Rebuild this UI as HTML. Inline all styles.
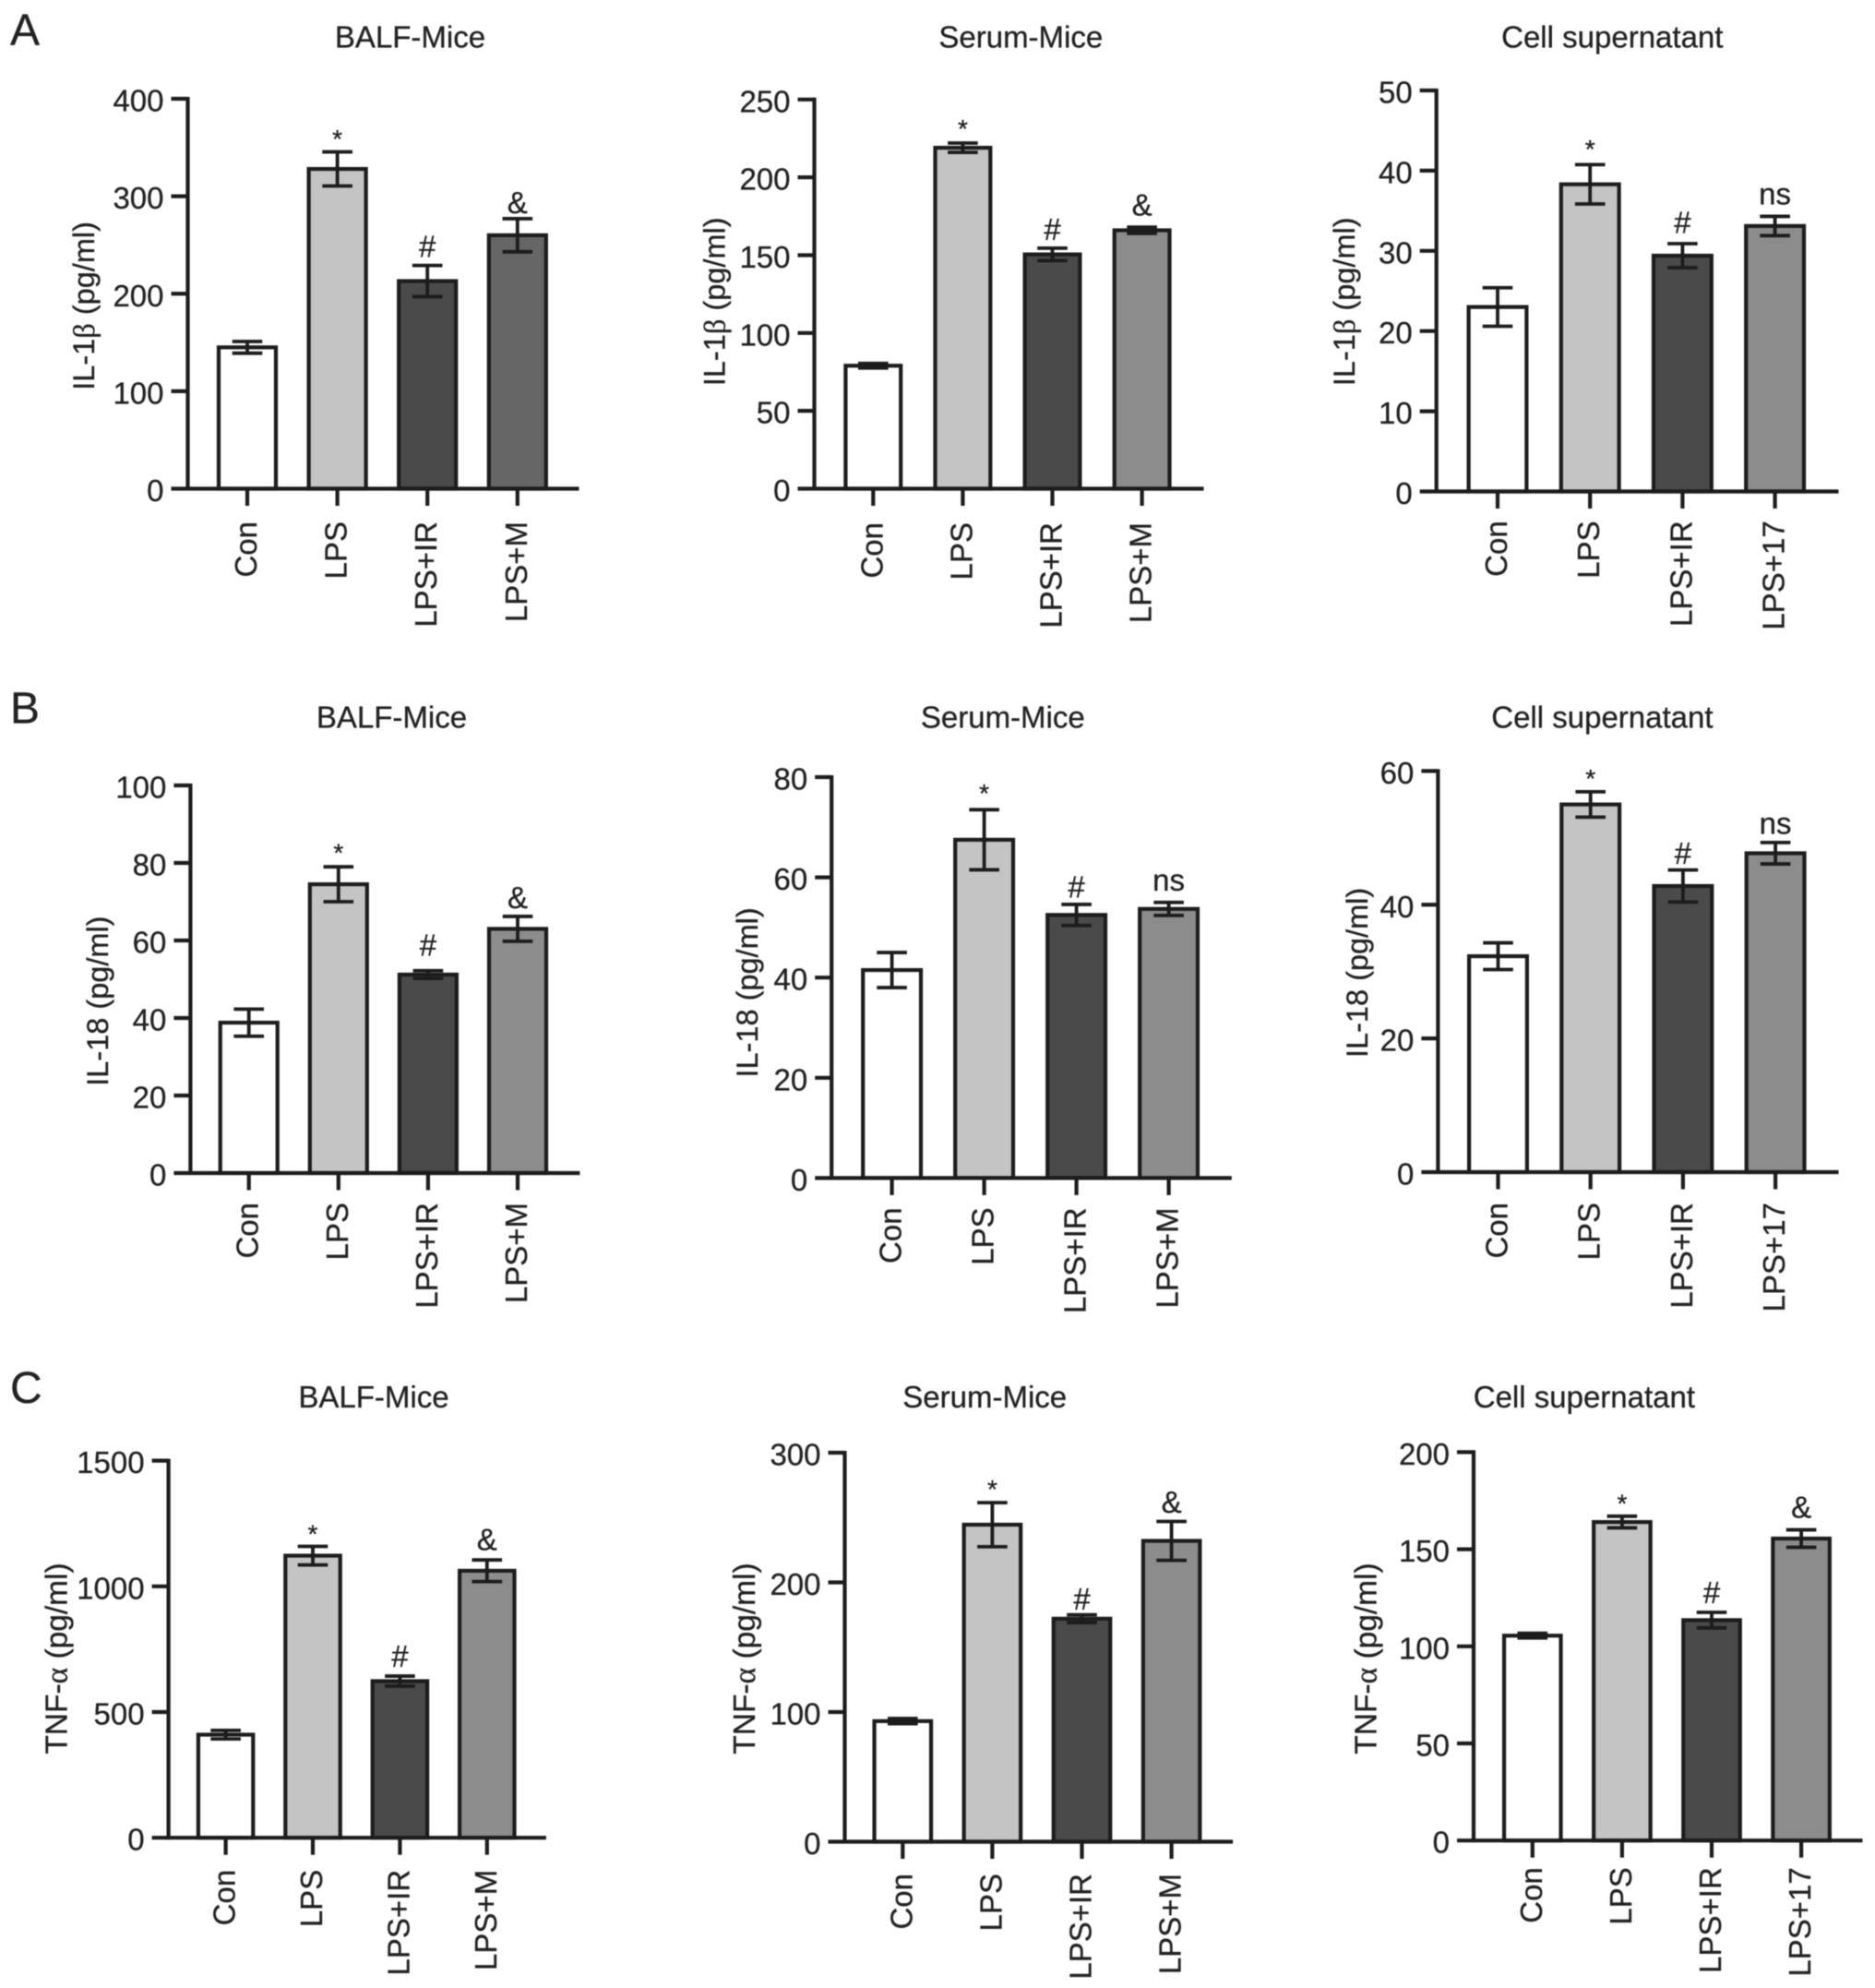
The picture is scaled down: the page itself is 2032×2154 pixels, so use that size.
<!DOCTYPE html>
<html lang="en">
<head>
<meta charset="utf-8">
<title>Cytokine levels bar charts</title>
<style>
html,body{margin:0;padding:0;background:#fff;width:2032px;height:2154px;overflow:hidden}
svg{display:block;filter:blur(0.5px)}
text{font-family:"Liberation Sans",Arial,sans-serif;fill:#222;stroke:#222;stroke-width:0.3px}
</style>
</head>
<body>
<svg id="figure" xmlns="http://www.w3.org/2000/svg" width="2032" height="2154" viewBox="0 0 2032 2154">
  <rect x="0" y="0" width="2032" height="2154" fill="#fff"/>
  <text x="11" y="48.5" font-size="48">A</text>
  <text x="11" y="783.7" font-size="48">B</text>
  <text x="11" y="1519.8" font-size="48">C</text>
</svg>
<script>
// ---- Category labels ----
const catsMice = ['Con', 'LPS', 'LPS+IR', 'LPS+M'];
const catsCell = ['Con', 'LPS', 'LPS+IR', 'LPS+17'];

// ---- Tick labels ----
const ticksA1 = [0, 100, 200, 300, 400];
const ticksA2 = [0, 50, 100, 150, 200, 250];
const ticksA3 = [0, 10, 20, 30, 40, 50];
const ticksB1 = [0, 20, 40, 60, 80, 100];
const ticksB2 = [0, 20, 40, 60, 80];
const ticksB3 = [0, 20, 40, 60];
const ticksC1 = [0, 500, 1000, 1500];
const ticksC2 = [0, 100, 200, 300];
const ticksC3 = [0, 50, 100, 150, 200];

// ---- Series values (means) ----
const valuesA1 = [145, 328, 213, 260];
const valuesA2 = [79, 219, 150.5, 166];
const valuesA3 = [23, 38.3, 29.4, 33.1];
const valuesB1 = [38.8, 74.5, 51.2, 63];
const valuesB2 = [41.5, 67.5, 52.5, 53.7];
const valuesB3 = [32.3, 55, 42.8, 47.7];
const valuesC1 = [410, 1122, 623, 1062];
const valuesC2 = [93, 244.5, 172, 232];
const valuesC3 = [105.5, 164, 113.5, 155.5];

// ---- Error bar half-widths ----
const errorsA1 = [6, 17.5, 16, 17];
const errorsA2 = [1.5, 3, 4, 2];
const errorsA3 = [2.4, 2.45, 1.5, 1.2];
const errorsB1 = [3.5, 4.5, 1, 3.2];
const errorsB2 = [3.5, 6, 2.1, 1.3];
const errorsB3 = [2, 1.9, 2.4, 1.6];
const errorsC1 = [17, 37, 20, 43];
const errorsC2 = [2, 17, 3, 15];
const errorsC3 = [1.2, 3, 4, 4.5];

// ---- Significance labels ----
const sigA1 = ['', '*', '#', '&'];
const sigA2 = ['', '*', '#', '&'];
const sigA3 = ['', '*', '#', 'ns'];
const sigB1 = ['', '*', '#', '&'];
const sigB2 = ['', '*', '#', 'ns'];
const sigB3 = ['', '*', '#', 'ns'];
const sigC1 = ['', '*', '#', '&'];
const sigC2 = ['', '*', '#', '&'];
const sigC3 = ['', '*', '#', '&'];

// ---- Bar fills ----
const fillsA1 = ['#ffffff', '#c4c4c4', '#4a4a4a', '#666666'];
const fillsStd = ['#ffffff', '#c4c4c4', '#4a4a4a', '#8c8c8c'];

// ---- Panel layouts (axes geometry lives here, marks come from the arrays above) ----
const panels = [
 {id:'a1',title:'BALF-Mice',tx:444.5,ty:51.7,yl:['IL-1','β',' (pg/ml)'],ylf:32.5,ylx:101.9,yly:331.4,ax:203.5,y0:529.5,yT:107,max:400,first:268,step:97.6,xEnd:627.5,bw:62,gap:35.5,cats:catsMice,ticks:ticksA1,vals:valuesA1,errs:errorsA1,sig:sigA1,fills:fillsA1,lift:[0,4.5,9.2,5.9]},
 {id:'a2',title:'Serum-Mice',tx:1106.3,ty:51.7,yl:['IL-1','β',' (pg/ml)'],ylf:32.5,ylx:785.4,yly:326.8,ax:882.5,y0:529.5,yT:107.8,max:250,first:946.3,step:97.1,xEnd:1304.5,bw:59.8,gap:36.5,cats:catsMice,ticks:ticksA2,vals:valuesA2,errs:errorsA2,sig:sigA2,fills:fillsStd,lift:[0,6,8.8,12.4]},
 {id:'a3',title:'Cell supernatant',tx:1747.3,ty:51.7,yl:['IL-1','β',' (pg/ml)'],ylf:32.5,ylx:1467.8,yly:326.8,ax:1556.7,y0:532.5,yT:98,max:50,first:1623,step:100.2,xEnd:1992.5,bw:62.8,gap:31.8,cats:catsCell,ticks:ticksA3,vals:valuesA3,errs:errorsA3,sig:sigA3,fills:fillsStd,lift:[0,7.4,11.5,13]},
 {id:'b1',title:'BALF-Mice',tx:424.5,ty:788.3,yl:['IL-18 (pg/ml)','',''],ylf:32.5,ylx:117.1,yly:1084.6,ax:206.4,y0:1271,yT:851,max:100,first:269.7,step:97.1,xEnd:628.4,bw:62,gap:32,cats:catsMice,ticks:ticksB1,vals:valuesB1,errs:errorsB1,sig:sigB1,fills:fillsStd,lift:[0,5.8,16.3,9]},
 {id:'b2',title:'Serum-Mice',tx:1086.8,ty:788.3,yl:['IL-18 (pg/ml)','',''],ylf:32.5,ylx:820.9,yly:1075.4,ax:901.2,y0:1276.4,yT:842,max:80,first:966.6,step:100,xEnd:1334.8,bw:62.8,gap:32,cats:catsMice,ticks:ticksB2,vals:valuesB2,errs:errorsB2,sig:sigB2,fills:fillsStd,lift:[0,8.4,7.5,12.8]},
 {id:'b3',title:'Cell supernatant',tx:1736.4,ty:788.3,yl:['IL-18 (pg/ml)','',''],ylf:32.5,ylx:1482.1,yly:1053.9,ax:1558.4,y0:1270,yT:835.4,max:60,first:1623.5,step:100.2,xEnd:1992.5,bw:62.8,gap:33,cats:catsCell,ticks:ticksB3,vals:valuesB3,errs:errorsB3,sig:sigB3,fills:fillsStd,lift:[0,5,6.8,9.4]},
 {id:'c1',title:'BALF-Mice',tx:405,ty:1524.9,yl:['TNF-','α',' (pg/ml)'],ylf:33.5,ylx:72.4,yly:1797,ax:182.6,y0:1991.2,yT:1582.6,max:1500,first:244.6,step:94.4,xEnd:591.9,bw:59.4,gap:34.6,cats:catsMice,ticks:ticksC1,vals:valuesC1,errs:errorsC1,sig:sigC1,fills:fillsStd,lift:[0,4.2,10.2,10.6]},
 {id:'c2',title:'Serum-Mice',tx:1067.2,ty:1524.9,yl:['TNF-','α',' (pg/ml)'],ylf:33.5,ylx:817.9,yly:1797,ax:915.5,y0:1995.5,yT:1574,max:300,first:978.3,step:97.1,xEnd:1336.1,bw:61.5,gap:34.5,cats:catsMice,ticks:ticksC2,vals:valuesC2,errs:errorsC2,sig:sigC2,fills:fillsStd,lift:[0,5,5.5,9.7]},
 {id:'c3',title:'Cell supernatant',tx:1716.9,ty:1524.9,yl:['TNF-','α',' (pg/ml)'],ylf:33.5,ylx:1491.6,yly:1797,ax:1597,y0:1994.2,yT:1573.4,max:200,first:1660.8,step:97.1,xEnd:2018.5,bw:61.5,gap:29,cats:catsCell,ticks:ticksC3,vals:valuesC3,errs:errorsC3,sig:sigC3,fills:fillsStd,lift:[0,4.2,10.2,13]}
];

const NS = 'http://www.w3.org/2000/svg';
const INK = '#1c1c1c';
const svg = document.getElementById('figure');

function make(tag, attrs, parent) {
  const n = document.createElementNS(NS, tag);
  for (const k in attrs) n.setAttribute(k, attrs[k]);
  parent.appendChild(n);
  return n;
}

panels.forEach(function (p) {
  const yScale = function (v) { return p.y0 - (v / p.max) * (p.y0 - p.yT); };
  const xScale = function (i) { return p.first + i * p.step; };

  const g = make('g', {}, svg);
  
  

  // title
  const title = make('text', {x: p.tx, y: p.ty, 'font-size': 33, 'text-anchor': 'middle'}, g);
  
  
  title.textContent = p.title;

  // y-axis title
  const yt = make('text', {x: p.ylx, y: p.yly, 'font-size': p.ylf, 'text-anchor': 'middle', transform: 'rotate(-90 ' + p.ylx + ' ' + p.yly + ')'}, g);
  
  
  yt.appendChild(document.createTextNode(p.yl[0]));
  if (p.yl[1]) {
    const greek = make('tspan', {'font-family': '"Liberation Serif",serif'}, yt);
    
    
    greek.textContent = p.yl[1];
    yt.appendChild(document.createTextNode(p.yl[2]));
  }

  // bars
  p.vals.forEach(function (v, i) {
    const top = yScale(v);
    const bar = make('rect', {x: xScale(i) - p.bw / 2, y: top, width: p.bw, height: p.y0 - top, fill: p.fills[i], stroke: INK, 'stroke-width': 4.2}, g);
    
    
  });

  // error bars
  p.vals.forEach(function (v, i) {
    const cx = xScale(i);
    const hi = yScale(v + p.errs[i]);
    const lo = yScale(v - p.errs[i]);
    const err = make('path', {d: 'M' + (cx - 16.3) + ' ' + hi + 'H' + (cx + 16.3) + 'M' + cx + ' ' + hi + 'V' + lo + 'M' + (cx - 16.3) + ' ' + lo + 'H' + (cx + 16.3), fill: 'none', stroke: INK, 'stroke-width': 3.8}, g);
    
    
  });

  // significance labels
  p.sig.forEach(function (s, i) {
    if (!s) return;
    const hi = yScale(p.vals[i] + p.errs[i]);
    const sz = s === '*' ? 28 : 33;
    const t = make('text', {x: xScale(i), y: hi - p.lift[i], 'font-size': sz, 'text-anchor': 'middle'}, g);
    
    
    t.textContent = s;
  });

  // y axis line
  const yAxis = make('line', {x1: p.ax, x2: p.ax, y1: p.yT - 2, y2: p.y0 + 2, stroke: INK, 'stroke-width': 4.2}, g);
  
  

  // x axis line
  const xAxis = make('line', {x1: p.ax - 18, x2: p.xEnd, y1: p.y0, y2: p.y0, stroke: INK, 'stroke-width': 4.2}, g);
  
  

  // y ticks
  p.ticks.forEach(function (tv) {
    const y = yScale(tv);
    if (tv !== 0) {
      const tick = make('line', {x1: p.ax - 18, x2: p.ax, y1: y, y2: y, stroke: INK, 'stroke-width': 4.2}, g);
      
      
    }
    const lab = make('text', {x: p.ax - 26, y: y + 13.5, 'font-size': 33, 'text-anchor': 'end'}, g);
    
    
    lab.textContent = tv;
  });

  // x ticks + labels
  p.cats.forEach(function (c, i) {
    const cx = xScale(i);
    const tick = make('line', {x1: cx, x2: cx, y1: p.y0, y2: p.y0 + 18.5, stroke: INK, 'stroke-width': 4.2}, g);
    
    
    const bx = cx + 10;
    const by = p.y0 + p.gap;
    const lab = make('text', {x: bx, y: by, 'font-size': 33, 'text-anchor': 'end', transform: 'rotate(-90 ' + bx + ' ' + by + ')'}, g);
    
    
    lab.textContent = c;
  });
});
</script>
</body>
</html>
